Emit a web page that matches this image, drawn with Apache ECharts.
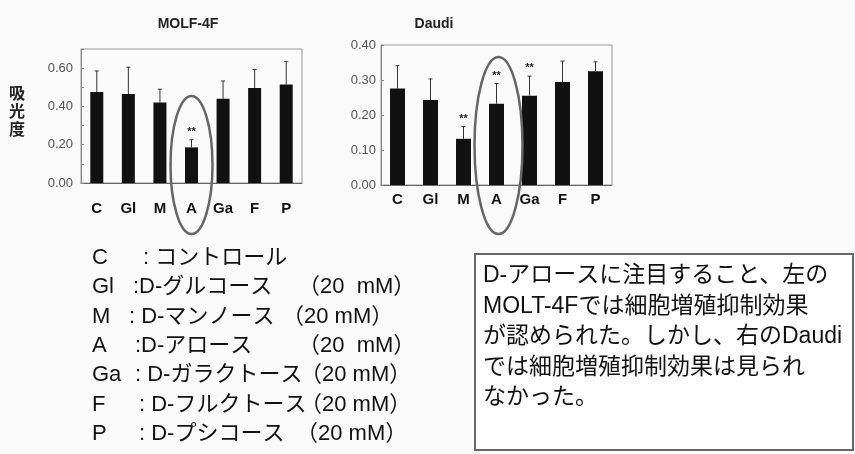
<!DOCTYPE html>
<html>
<head>
<meta charset="utf-8">
<script src="https://cdn.jsdelivr.net/npm/echarts@6/dist/echarts.min.js"></script>
<style>
  html, body { margin: 0; padding: 0; background: #fafafa; }
  #main { width: 855px; height: 454px; }
</style>
</head>
<body>
<div id="main"></div>
<script>
// データ
var categories = ['C', 'Gl', 'M', 'A', 'Ga', 'F', 'P'];

// MOLT-4F (左)
var molfMean = [0.475, 0.465, 0.42, 0.186, 0.44, 0.496, 0.514];
var molfSd   = [0.11, 0.14, 0.07, 0.04, 0.093, 0.097, 0.12];
var molfSig  = ['', '', '', '**', '', '', ''];
var molfTicks = [0, 0.2, 0.4, 0.6];

// Daudi (右)
var daudiMean = [0.276, 0.243, 0.132, 0.232, 0.255, 0.294, 0.325];
var daudiSd   = [0.065, 0.06, 0.035, 0.058, 0.056, 0.06, 0.027];
var daudiSig  = ['', '', '**', '**', '**', '', ''];
var daudiTicks = [0, 0.1, 0.2, 0.3, 0.4];

var titles = ['MOLF-4F', 'Daudi'];
var yName = '吸光度';

var legendKeys = ['C', 'Gl', 'M', 'A', 'Ga', 'F', 'P'];
var legendNames = [
  ': コントロール',
  ':D-グルコース',
  ': D-マンノース',
  ':D-アロース',
  ': D-ガラクトース',
  ': D-フルクトース',
  ': D-プシコース'
];
var legendConc = ['', '（20  mM）', '（20 mM）', '（20  mM）', '（20 mM）', '（20 mM）', '（20 mM）'];

var noteLines = [
  'D-アロースに注目すること、左の',
  'MOLT-4Fでは細胞増殖抑制効果',
  'が認められた。しかし、右のDaudi',
  'では細胞増殖抑制効果は見られ',
  'なかった。'
];

var latinFont = '"Liberation Sans", Arial, "Noto Sans CJK JP", sans-serif';

function errData(mean, sd, sig) {
  return mean.map(function (v, i) { return [i, v, v + sd[i], sig[i]]; });
}

// エラーバー描画
function renderErr(params, api) {
  var x = api.value(0);
  var lo = api.coord([x, api.value(1)]);
  var hi = api.coord([x, api.value(2)]);
  var sig = api.value(3);
  var children = [
    { type: 'line', shape: { x1: lo[0], y1: lo[1], x2: hi[0], y2: hi[1] },
      style: { stroke: '#333', lineWidth: 1 } },
    { type: 'line', shape: { x1: hi[0] - 2, y1: hi[1], x2: hi[0] + 2, y2: hi[1] },
      style: { stroke: '#333', lineWidth: 1 } }
  ];
  if (sig) {
    children.push({ type: 'text', x: hi[0], y: hi[1] - 8,
      style: { text: sig, fill: '#222', font: 'bold 11px ' + latinFont, align: 'center', verticalAlign: 'middle' } });
  }
  return { type: 'group', children: children };
}

function labelFmt(ticks) {
  return function (v) {
    for (var i = 0; i < ticks.length; i++) {
      if (Math.abs(ticks[i] - v) < 1e-6) return v.toFixed(2);
    }
    return '';
  };
}

var chart = echarts.init(document.getElementById('main'));

var titleStyle = { fontSize: 14, fontWeight: 'bold', color: '#222', fontFamily: latinFont };
var catLabel = { fontSize: 15, fontWeight: 'bold', color: '#111', fontFamily: latinFont };
var valLabel = { fontSize: 13, color: '#555', fontFamily: latinFont };

var option = {
  backgroundColor: '#fafafa',
  animation: false,
  title: [
    { text: titles[0], left: 183, top: 12, textAlign: 'center', textStyle: titleStyle },
    { text: titles[1], left: 429, top: 12, textAlign: 'center', textStyle: titleStyle }
  ],
  grid: [
    { left: 81, top: 49, width: 221, height: 134, show: true, borderColor: '#999', borderWidth: 1, backgroundColor: 'transparent' },
    { left: 381, top: 45, width: 231, height: 140, show: true, borderColor: '#999', borderWidth: 1, backgroundColor: 'transparent' }
  ],
  xAxis: [
    { type: 'category', gridIndex: 0, data: categories,
      axisLine: { lineStyle: { color: '#666' } }, axisTick: { show: false },
      axisLabel: Object.assign({ margin: 18 }, catLabel) },
    { type: 'category', gridIndex: 1, data: categories,
      axisLine: { lineStyle: { color: '#666' } }, axisTick: { show: false },
      axisLabel: Object.assign({ margin: 7 }, catLabel) }
  ],
  yAxis: [
    { type: 'value', gridIndex: 0, min: 0, max: 0.7, interval: 0.1,
      axisLine: { show: true, lineStyle: { color: '#888' } },
      axisTick: { show: true, inside: true, length: 3, lineStyle: { color: '#888' } },
      splitLine: { show: false },
      axisLabel: Object.assign({ margin: 8, formatter: labelFmt(molfTicks) }, valLabel) },
    { type: 'value', gridIndex: 1, min: 0, max: 0.4, interval: 0.1,
      axisLine: { show: true, lineStyle: { color: '#888' } },
      axisTick: { show: true, inside: true, length: 3, lineStyle: { color: '#888' } },
      splitLine: { show: false },
      axisLabel: Object.assign({ margin: 5, formatter: labelFmt(daudiTicks) }, valLabel) }
  ],
  series: [
    { type: 'bar', xAxisIndex: 0, yAxisIndex: 0, data: molfMean, barWidth: 13,
      itemStyle: { color: '#111' } },
    { type: 'custom', xAxisIndex: 0, yAxisIndex: 0, data: errData(molfMean, molfSd, molfSig),
      renderItem: renderErr, z: 5 },
    { type: 'bar', xAxisIndex: 1, yAxisIndex: 1, data: daudiMean, barWidth: 15,
      itemStyle: { color: '#111' } },
    { type: 'custom', xAxisIndex: 1, yAxisIndex: 1, data: errData(daudiMean, daudiSd, daudiSig),
      renderItem: renderErr, z: 5 }
  ]
};
chart.setOption(option);

// 注釈 (楕円・凡例・テキスト枠)
var ax0 = chart.convertToPixel({ xAxisIndex: 0 }, 'A');
var ax1 = chart.convertToPixel({ xAxisIndex: 1 }, 'A');

var graphics = [
  { type: 'text', left: 9, top: 84,
    style: { text: yName.split('').join('\n'), font: 'bold 16px "Noto Sans CJK JP", sans-serif', fill: '#222', lineHeight: 18 } },
  { type: 'ellipse', shape: { cx: ax0, cy: 165, rx: 21, ry: 69 },
    style: { fill: 'none', stroke: '#666', lineWidth: 2.5 }, z: 10 },
  { type: 'ellipse', shape: { cx: ax1 + 2, cy: 145.5, rx: 24, ry: 88.5 },
    style: { fill: 'none', stroke: '#666', lineWidth: 2.5 }, z: 10 },
  { type: 'rect', shape: { x: 475, y: 254, width: 378, height: 196 },
    style: { fill: '#fff', stroke: '#666', lineWidth: 2 } }
];

var nameX = [143, 133, 129, 135, 135, 139, 139];
var concX = [0, 298, 282, 298, 300, 300, 296];
legendKeys.forEach(function (k, i) {
  var y = 258 + i * 29.3;
  var font = '22px ' + latinFont;
  graphics.push({ type: 'text', x: 92, y: y,
    style: { text: k, font: font, fill: '#111', verticalAlign: 'middle' } });
  graphics.push({ type: 'text', x: nameX[i], y: y,
    style: { text: legendNames[i], font: font, fill: '#111', verticalAlign: 'middle' } });
  if (legendConc[i]) {
    graphics.push({ type: 'text', x: concX[i], y: y,
      style: { text: legendConc[i], font: font, fill: '#111', verticalAlign: 'middle' } });
  }
});

noteLines.forEach(function (t, i) {
  graphics.push({ type: 'text', x: 483, y: 276 + i * 30.5,
    style: { text: t, font: '23px ' + latinFont, fill: '#111', verticalAlign: 'middle' } });
});

chart.setOption({ graphic: graphics });
</script>
</body>
</html>
